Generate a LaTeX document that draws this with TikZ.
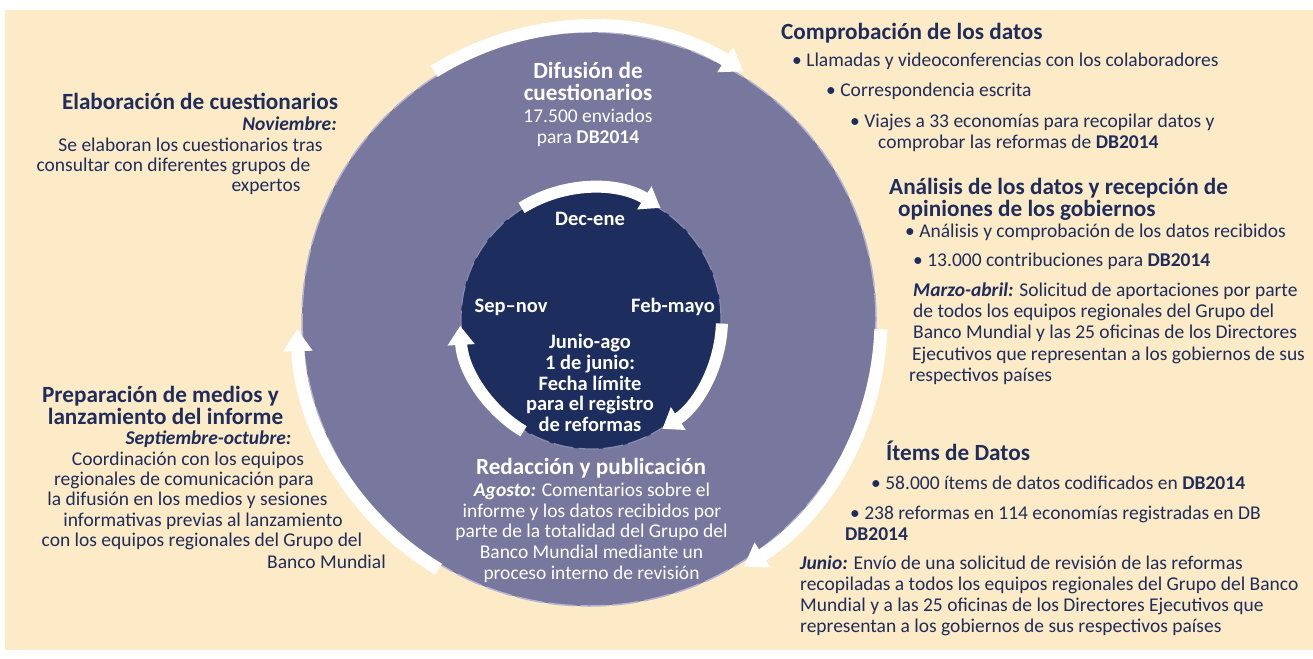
\documentclass[tikz,border=0pt]{standalone}
\usepackage{fontspec}
\setmainfont{Carlito}
\usetikzlibrary{arrows.meta}
\definecolor{cream}{HTML}{FDEAC7}
\definecolor{ringpurple}{HTML}{78789E}
\definecolor{navy}{HTML}{1D2D5E}
\definecolor{txtnavy}{HTML}{1F2D5C}
\definecolor{rim}{HTML}{B4B4D2}
\begin{document}
\begin{tikzpicture}[x=1pt,y=-1pt,
  body/.style={font=\fontsize{19.5}{20.5}\selectfont, text=txtnavy, inner sep=0pt, anchor=base west},
  bodyc/.style={body, anchor=base},
  head/.style={font=\fontsize{23.2}{24}\selectfont\bfseries, text=txtnavy, inner sep=0pt, anchor=base west},
  headc/.style={head, anchor=base},
  wbody/.style={bodyc, text=white},
  whead/.style={headc, text=white},
  wlab/.style={font=\fontsize{20.5}{21}\selectfont\bfseries, text=white, inner sep=0pt, anchor=base},
  ringarrow/.style={white, line width=13pt, -{Triangle[length=22pt,width=28pt]}},
  innerarrow/.style={white, line width=12pt, -{Triangle[length=19pt,width=26pt]}},
]
\useasboundingbox (0,0) rectangle (1313,658);
\fill[white] (0,0) rectangle (1313,658);
\fill[cream] (5,10) rectangle (1313,650);
\coordinate (C) at (589,319);
\node[circle, fill=ringpurple, draw=rim, line width=1.5pt, dash pattern=on 26pt off 6pt, minimum size=574pt, inner sep=0pt] (outer) at (C) {};
\node[circle, fill=navy, draw=rim!70!navy, line width=1.2pt, dash pattern=on 20pt off 5pt, minimum size=260pt, inner sep=0pt] (inner) at ([xshift=2pt]C) {};
% outer ring arrows
\draw[ringarrow] (C) ++(-122:292) arc[start angle=-122, end angle=-58, radius=292];
\draw[ringarrow] (C) ++(2:292) arc[start angle=2, end angle=58, radius=292];
\draw[ringarrow] (C) ++(121:292) arc[start angle=121, end angle=178, radius=292];
% inner ring arrows
\coordinate (Ci) at (591,319);
\draw[innerarrow] (Ci) ++(-122:131) arc[start angle=-122, end angle=-58, radius=131];
\draw[innerarrow] (Ci) ++(2:131) arc[start angle=2, end angle=57, radius=131];
\draw[innerarrow] (Ci) ++(121:131) arc[start angle=121, end angle=177, radius=131];
% left top
\node[headc] (a1) at (200,110) {Elaboración de cuestionarios};
\node[bodyc] (a2) at (289.5,130) {\textbf{\textit{Noviembre:}}};
\node[bodyc] (a3) at (190.5,151) {Se elaboran los cuestionarios tras};
\node[bodyc] (a4) at (173.5,171) {consultar con diferentes grupos de};
\node[bodyc] (a5) at (266,191) {expertos};
% center top
\node[whead] (b1) at (588,79) {Difusión de};
\node[whead] (b2) at (588,101) {cuestionarios};
\node[wbody] (b3) at (588,123) {17.500 enviados};
\node[wbody] (b4) at (588,143) {para \textbf{DB2014}};
% inner labels
\node[wlab] (c1) at (590,225) {Dec-ene};
\node[wlab] (c2) at (511,312) {Sep–nov};
\node[wlab] (c3) at (673,312) {Feb-mayo};
\node[wlab] (c4) at (590,348) {Junio-ago};
\node[wlab] (c5) at (590,369) {1 de junio:};
\node[wlab] (c6) at (590,390) {Fecha límite};
\node[wlab] (c7) at (590,410) {para el registro};
\node[wlab] (c8) at (590,431) {de reformas};
% bottom center
\node[whead] (d1) at (591,474) {Redacción y publicación};
\node[wbody] (d2) at (592,496) {\textbf{\textit{Agosto:}} Comentarios sobre el};
\node[wbody] (d3) at (592,517) {informe y los datos recibidos por};
\node[wbody] (d4) at (591.5,537) {parte de la totalidad del Grupo del};
\node[wbody] (d5) at (591.5,558) {Banco Mundial mediante un};
\node[wbody] (d6) at (591.5,579) {proceso interno de revisión};
% lower left
\node[headc] (e1) at (160.5,402) {Preparación de medios y};
\node[headc] (e2) at (165.5,424) {lanzamiento del informe};
\node[bodyc] (e3) at (208.5,444) {\textbf{\textit{Septiembre-octubre:}}};
\node[bodyc] (e4) at (188,465) {Coordinación con los equipos};
\node[bodyc] (e5) at (184,485) {regionales de comunicación para};
\node[bodyc] (e6) at (187.5,505) {la difusión en los medios y sesiones};
\node[bodyc] (e7) at (203,526) {informativas previas al lanzamiento};
\node[bodyc] (e8) at (202,546) {con los equipos regionales del Grupo del};
\node[bodyc] (e9) at (326.5,568) {Banco Mundial};
% right top
\node[head] (f1) at (781,40) {Comprobación de los datos};
\node[body] (f2) at (792,67) {• Llamadas y videoconferencias con los colaboradores};
\node[body] (f3) at (826,97) {• Correspondencia escrita};
\node[body] (f4) at (850,128) {• Viajes a 33 economías para recopilar datos y};
\node[body] (f5) at (878,148) {comprobar las reformas de \textbf{DB2014}};
\node[head] (g1) at (889,194) {Análisis de los datos y recepción de};
\node[head] (g2) at (898,216) {opiniones de los gobiernos};
\node[body] (g3) at (905,237) {• Análisis y comprobación de los datos recibidos};
\node[body] (g4) at (913,266) {• 13.000 contribuciones para \textbf{DB2014}};
\node[body] (g5) at (913,296) {\textbf{\textit{Marzo-abril:}} Solicitud de aportaciones por parte};
\node[body] (g6) at (913,317) {de todos los equipos regionales del Grupo del};
\node[body] (g7) at (913,338) {Banco Mundial y las 25 oficinas de los Directores};
\node[body] (g8) at (912,360) {Ejecutivos que representan a los gobiernos de sus};
\node[body] (g9) at (909,381) {respectivos países};
% right bottom
\node[head] (h1) at (886,460) {Ítems de Datos};
\node[body] (h2) at (871,489) {• 58.000 ítems de datos codificados en \textbf{DB2014}};
\node[body] (h3) at (850,519) {• 238 reformas en 114 economías registradas en DB};
\node[body] (h4) at (845,540) {\textbf{DB2014}};
\node[body] (h5) at (800,569) {\textbf{\textit{Junio:}} Envío de una solicitud de revisión de las reformas};
\node[body] (h6) at (800,590) {recopiladas a todos los equipos regionales del Grupo del Banco};
\node[body] (h7) at (800,611) {Mundial y a las 25 oficinas de los Directores Ejecutivos que};
\node[body] (h8) at (800,632) {representan a los gobiernos de sus respectivos países};
\end{tikzpicture}
\end{document}
